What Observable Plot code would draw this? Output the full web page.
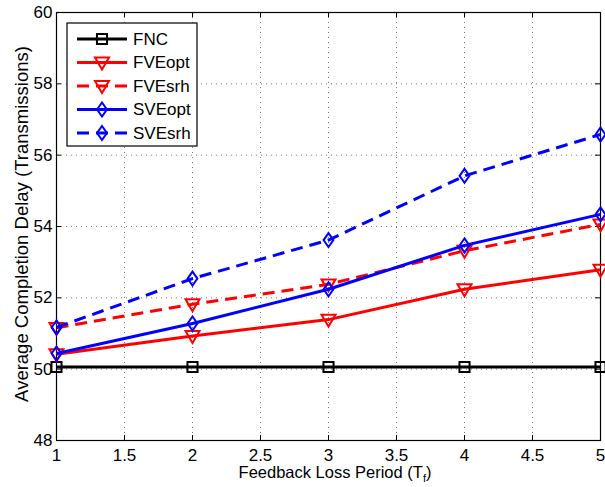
<!DOCTYPE html>
<html><head><meta charset="utf-8">
<script src="https://cdn.jsdelivr.net/npm/d3@7"></script>
<script src="https://cdn.jsdelivr.net/npm/@observablehq/plot@0.6"></script>
<style>
body{margin:0;background:#fff}
#chart svg{font-family:"Liberation Sans",Arial,sans-serif}
</style>
</head><body><div id="chart"></div>
<script>
const periods = [1, 2, 3, 4, 5];
const FNC    = [50.06, 50.06, 50.06, 50.06, 50.06];
const FVEopt = [50.42, 50.93, 51.39, 52.24, 52.79];
const FVEsrh = [51.16, 51.82, 52.38, 53.32, 54.06];
const SVEopt = [50.44, 51.28, 52.24, 53.47, 54.34];
const SVEsrh = [51.17, 52.54, 53.62, 55.42, 56.58];
const seriesNames = ["FNC", "FVEopt", "FVEsrh", "SVEopt", "SVEsrh"];
const seriesValues = [FNC, FVEopt, FVEsrh, SVEopt, SVEsrh];
const xTicks = [1, 1.5, 2, 2.5, 3, 3.5, 4, 4.5, 5];
const yTicks = [48, 50, 52, 54, 56, 58, 60];
const xLabel = "Feedback Loss Period (T";
const xLabelSub = "f";
const yLabel = "Average Completion Delay (Transmissions)";

// custom symbols (d3 symbol type interface)
const squareSym = {draw(ctx, size){ const r = Math.sqrt(size/Math.PI); const h = 0.72*r; ctx.moveTo(-h,-h); ctx.lineTo(h,-h); ctx.lineTo(h,h); ctx.lineTo(-h,h); ctx.closePath(); }};
const triDownSym = {draw(ctx, size){ const r = Math.sqrt(size/Math.PI); ctx.moveTo(-r,-0.7*r); ctx.lineTo(r,-0.7*r); ctx.lineTo(0,r); ctx.closePath(); }};
const diamondSym = {draw(ctx, size){ const r = Math.sqrt(size/Math.PI); ctx.moveTo(0,-r); ctx.lineTo(0.7*r,0); ctx.lineTo(0,r); ctx.lineTo(-0.7*r,0); ctx.closePath(); }};

const style = {
  FNC:    {color: "#000000", dash: null,  symbol: squareSym},
  FVEopt: {color: "#ff0000", dash: null,  symbol: triDownSym},
  FVEsrh: {color: "#ff0000", dash: "12,7", symbol: triDownSym},
  SVEopt: {color: "#0000ff", dash: null,  symbol: diamondSym},
  SVEsrh: {color: "#0000ff", dash: "12,7", symbol: diamondSym}
};

const rows = [];
seriesNames.forEach((s, i) => periods.forEach((p, j) => rows.push({series: s, x: p, y: seriesValues[i][j]})));

const W = 605, H = 487;
const mt = 12, mb = 47, ml = 56, mr = 5;
const plotH = H - mt - mb, plotW = W - ml - mr;
const tk = 5;

const marks = [
  Plot.gridX(xTicks, {stroke: "#777", strokeOpacity: 1, strokeDasharray: "1,4", strokeWidth: 1}),
  Plot.gridY(yTicks, {stroke: "#777", strokeOpacity: 1, strokeDasharray: "1,4", strokeWidth: 1}),
  // inward ticks on all four sides
  Plot.tickX(xTicks, {x: d => d, insetTop: plotH - tk, stroke: "black"}),
  Plot.tickX(xTicks, {x: d => d, insetBottom: plotH - tk, stroke: "black"}),
  Plot.tickY(yTicks, {y: d => d, insetRight: plotW - tk, stroke: "black"}),
  Plot.tickY(yTicks, {y: d => d, insetLeft: plotW - tk, stroke: "black"}),
  Plot.axisX(xTicks, {tickSize: 0, tickPadding: 8, fontSize: 17, label: null, tickFormat: d => String(d)}),
  Plot.axisY(yTicks, {tickSize: 0, tickPadding: 4, fontSize: 17, label: null, tickFormat: d => String(d)}),
  Plot.frame({stroke: "black", strokeWidth: 1.2})
];
seriesNames.forEach(s => {
  const st = style[s];
  const d = rows.filter(r => r.series === s);
  marks.push(Plot.line(d, {x: "x", y: "y", stroke: st.color, strokeWidth: 3, strokeDasharray: st.dash, strokeLinecap: "butt"}));
  marks.push(Plot.dot(d, {x: "x", y: "y", stroke: st.color, fill: "none", strokeWidth: 2, r: 7, symbol: st.symbol}));
});

const chart = Plot.plot({
  width: W, height: H,
  marginTop: mt, marginBottom: mb, marginLeft: ml, marginRight: mr,
  style: {fontFamily: '"Liberation Sans", Arial, sans-serif', background: "white", overflow: "visible"},
  x: {domain: [1, 5], label: null},
  y: {domain: [48, 60], label: null},
  marks
});

const svg = d3.select(chart);
// axis titles
const xt = svg.append("text").attr("x", ml + plotW/2 + 7).attr("y", 478)
  .attr("text-anchor", "middle").attr("font-size", 16.5).attr("fill", "black");
xt.append("tspan").text(xLabel);
xt.append("tspan").attr("font-size", 11).attr("dy", 4).text(xLabelSub);
xt.append("tspan").attr("dy", -4).text(")");
svg.append("text").attr("transform", `translate(28,${mt + plotH/2 - 2}) rotate(-90)`)
  .attr("text-anchor", "middle").attr("font-size", 18.5).attr("fill", "black").text(yLabel);

// legend
const lg = svg.append("g").attr("transform", "translate(67,23)");
lg.append("rect").attr("width", 130).attr("height", 123).attr("fill", "white").attr("stroke", "black").attr("stroke-width", 1.2);
seriesNames.forEach((s, i) => {
  const st = style[s];
  const yy = 16 + i * 23.5;
  lg.append("line").attr("x1", 10).attr("x2", 60).attr("y1", yy).attr("y2", yy)
    .attr("stroke", st.color).attr("stroke-width", 3).attr("stroke-dasharray", st.dash);
  const p = d3.path(); st.symbol.draw(p, 49 * Math.PI);
  lg.append("path").attr("d", p.toString()).attr("transform", `translate(35,${yy})`)
    .attr("fill", "none").attr("stroke", st.color).attr("stroke-width", 2);
  lg.append("text").attr("x", 66).attr("y", yy).attr("dy", "0.35em").attr("text-anchor", "start")
    .attr("font-size", 17).attr("fill", "black").text(s);
});

document.getElementById("chart").appendChild(chart);
</script>
</body></html>
